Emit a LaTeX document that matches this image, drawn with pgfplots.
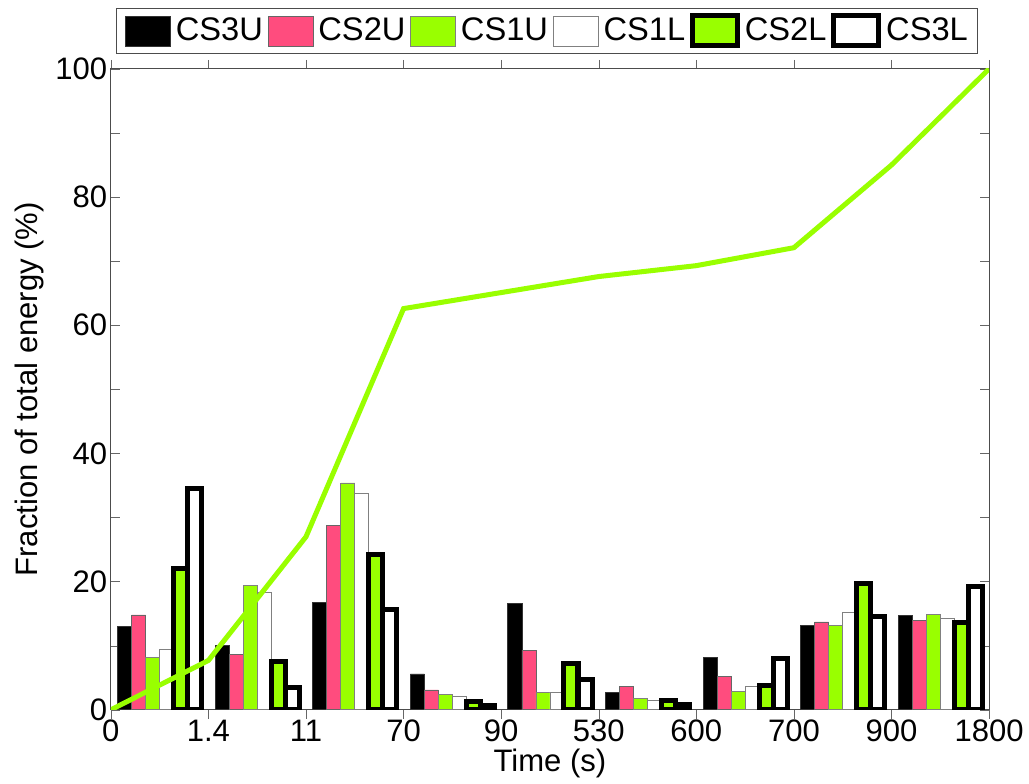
\documentclass[border=0pt]{standalone}
\usepackage{fontspec}
\setmainfont{Liberation Sans}
\usepackage{pgfplots}
\pgfplotsset{compat=1.18}
\definecolor{cpink}{RGB}{255,76,126}
\definecolor{cgreen}{RGB}{153,255,0}

\begin{document}
\begin{tikzpicture}
\begin{axis}[
  scale only axis, width=438.5pt, height=320pt,
  xmin=0, xmax=9, ymin=0, ymax=100,
  xtick={0,1,...,9},
  xticklabels={0,1.4,11,70,90,530,600,700,900,1800},
  ytick={0,20,40,60,80,100}, minor y tick num=1,
  tick align=inside, tick style={black!60},
  major tick length=4.5pt, minor tick length=4.5pt,
  axis line style={black!70},
  /pgf/number format/assume math mode=true,
  font=\fontsize{15.5}{18}\selectfont,
  tick label style={font=\fontsize{15.5}{18}\selectfont},
  xticklabel style={inner sep=0pt, yshift=-0.5pt},
  yticklabel style={xshift=1.7pt},
  xlabel={Time (s)}, ylabel={Fraction of total energy (\%)},
  xlabel style={inner sep=0pt, yshift=-3pt}, ylabel style={yshift=-1pt},
  ybar=0pt, bar width=7pt,
  legend columns=6,
  legend style={at={(0.496,1)}, anchor=south, yshift=7.5pt, draw=black!70,
    font=\fontsize{16.3}{18}\selectfont, inner xsep=4.5pt, inner ysep=2.5pt,
    nodes={inner xsep=0pt},
    /tikz/every odd column/.append style={column sep=2.5pt},
    /tikz/every even column/.append style={column sep=2.3pt}},
  legend image code/.code={\draw[#1] (0pt,-7.5pt) rectangle (22.5pt,7.5pt);},
]
\addplot[fill=black, draw=black!80, bar shift=-17.5pt] coordinates {
 (0.5,13.0) (1.5,10.0) (2.5,16.8) (3.5,5.6) (4.5,16.6) (5.5,2.7) (6.5,8.1) (7.5,13.2) (8.5,14.7)};
\addplot[fill=cpink, draw=black!60, bar shift=-10.5pt] coordinates {
 (0.5,14.8) (1.5,8.7) (2.5,28.7) (3.5,3.1) (4.5,9.3) (5.5,3.6) (6.5,5.2) (7.5,13.7) (8.5,14.0)};
\addplot[fill=cgreen, draw=black!50, bar shift=-3.5pt] coordinates {
 (0.5,8.1) (1.5,19.4) (2.5,35.4) (3.5,2.4) (4.5,2.7) (5.5,1.8) (6.5,2.9) (7.5,13.2) (8.5,14.9)};
\addplot[fill=white, draw=black!50, bar shift=3.5pt] coordinates {
 (0.5,9.5) (1.5,18.3) (2.5,33.8) (3.5,2.1) (4.5,2.7) (5.5,1.5) (6.5,3.6) (7.5,15.2) (8.5,14.3)};
\addplot[fill=cgreen, draw=black, line width=2.5pt, bar shift=10.5pt] coordinates {
 (0.5,22.1) (1.5,7.5) (2.5,24.2) (3.5,1.25) (4.5,7.3) (5.5,1.4) (6.5,3.8) (7.5,19.7) (8.5,13.6)};
\addplot[fill=white, draw=black, line width=2.5pt, bar shift=17.5pt] coordinates {
 (0.5,34.5) (1.5,3.5) (2.5,15.6) (3.5,0.6) (4.5,4.7) (5.5,0.8) (6.5,8.0) (7.5,14.6) (8.5,19.2)};
\addplot[sharp plot, draw=cgreen, line width=2.5pt, forget plot] coordinates {
 (0,0) (1,7.7) (2,27) (3,62.6) (4,65.1) (5,67.6) (6,69.3) (7,72.1) (8,85) (9,100)};
\legend{CS3U,CS2U,CS1U,CS1L,CS2L,CS3L}
\end{axis}
% margins around the picture, as in the reference
\path ([yshift=4pt]current bounding box.north) ([xshift=-4pt]current bounding box.west)
      ([xshift=2.7pt]current bounding box.east) ([yshift=-3pt]current bounding box.south);
\end{tikzpicture}
\end{document}
